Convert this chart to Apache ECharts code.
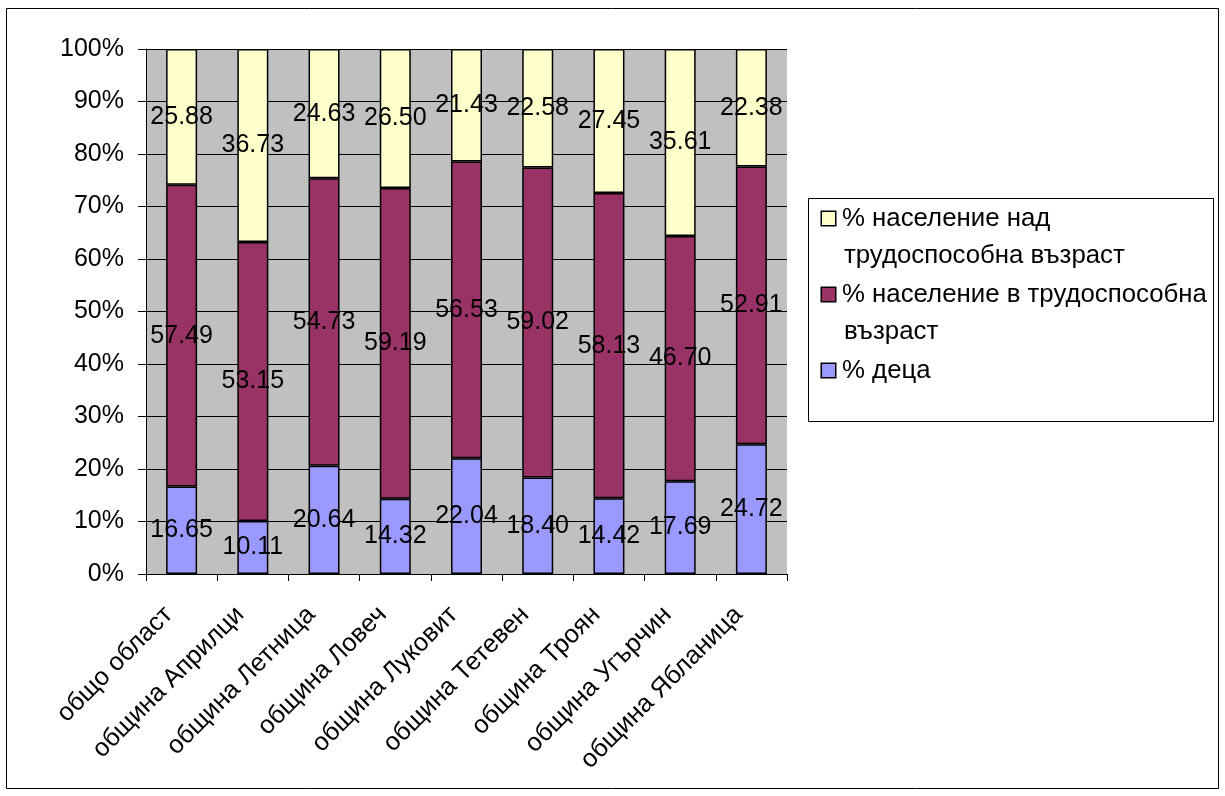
<!DOCTYPE html>
<html>
<head>
<meta charset="utf-8">
<script src="https://cdn.jsdelivr.net/npm/echarts@6/dist/echarts.min.js"></script>
<style>
html,body{margin:0;padding:0;background:#fff;}
#chart{width:1225px;height:796px;}
</style>
</head>
<body>
<div id="chart"></div>
<script>
var categories = ['общо област','община Априлци','община Летница','община Ловеч','община Луковит','община Тетевен','община Троян','община Угърчин','община Ябланица'];
var children = [16.65, 10.11, 20.64, 14.32, 22.04, 18.40, 14.42, 17.69, 24.72];
var working = [57.49, 53.15, 54.73, 59.19, 56.53, 59.02, 58.13, 46.70, 52.91];
var elderly = [25.88, 36.73, 24.63, 26.50, 21.43, 22.58, 27.45, 35.61, 22.38];
var seriesNames = ['% деца', '% население в трудоспособна възраст', '% население над трудоспособна възраст'];
var legendLines = {
  '% население над трудоспособна възраст': ['% население над', 'трудоспособна възраст'],
  '% население в трудоспособна възраст': ['% население в трудоспособна', 'възраст'],
  '% деца': ['% деца']
};
var colors = ['#9999FF', '#993366', '#FFFFCC'];
var FONT = 'Liberation Sans, Arial, sans-serif';

var chart = echarts.init(document.getElementById('chart'));

function makeSeries(name, data, color) {
  return {
    name: name,
    type: 'bar',
    stack: 'total',
    data: data,
    barWidth: 31,
    itemStyle: { color: color, borderColor: '#000', borderWidth: 1.5 },
    label: {
      show: true,
      position: 'inside',
      color: '#000',
      fontSize: 25,
      fontFamily: FONT,
      formatter: function (p) { return p.value.toFixed(2); }
    },
    emphasis: { disabled: true }
  };
}

var richStyles = {
  t: { fontSize: 25.8, fontFamily: FONT, color: '#000', lineHeight: 37 },
  g: { width: 7, lineHeight: 37 },
  sp: { width: 22, lineHeight: 37 }
};
colors.forEach(function (c, i) {
  richStyles['sq' + i] = { width: 13, height: 13, backgroundColor: c, borderColor: '#000', borderWidth: 1.5, lineHeight: 37 };
});

chart.setOption({
  animation: false,
  backgroundColor: '#fff',
  graphic: [
    { type: 'rect', shape: { x: 6.5, y: 8.5, width: 1212, height: 780 }, style: { fill: 'none', stroke: '#000', lineWidth: 1 }, z: -1 },
    { type: 'rect', shape: { x: 808.5, y: 198.5, width: 405, height: 223 }, style: { fill: 'none', stroke: '#000', lineWidth: 1 } }
  ],
  grid: { left: 146, right: 438, top: 49, bottom: 222, show: true, backgroundColor: '#C0C0C0', borderWidth: 0 },
  legend: {
    orient: 'vertical',
    left: 817,
    top: 200,
    padding: 0,
    itemGap: 2,
    itemWidth: 0,
    itemHeight: 0,
    icon: 'none',
    selectedMode: false,
    data: [seriesNames[2], seriesNames[1], seriesNames[0]],
    formatter: function (name) {
      var idx = seriesNames.indexOf(name);
      var lines = legendLines[name];
      var out = '{sq' + idx + '|}{g|}{t|' + lines[0] + '}';
      for (var i = 1; i < lines.length; i++) out += '\n{sp|}{t|' + lines[i] + '}';
      return out;
    },
    textStyle: { fontSize: 25.8, fontFamily: FONT, color: '#000', lineHeight: 37, rich: richStyles }
  },
  xAxis: {
    type: 'category',
    data: categories,
    axisLine: { lineStyle: { color: '#000', width: 1 } },
    axisTick: { show: true, length: 7, lineStyle: { color: '#000' } },
    axisLabel: { rotate: 45, margin: 24, padding: [0, 18, 0, 0], fontSize: 25.5, fontFamily: FONT, color: '#000', interval: 0 },
    splitLine: { show: false }
  },
  yAxis: {
    type: 'value',
    min: 0,
    max: 100,
    interval: 10,
    axisLine: { show: true, lineStyle: { color: '#000', width: 1 } },
    axisTick: { show: true, length: 8, lineStyle: { color: '#000' } },
    axisLabel: { formatter: '{value}%', margin: 22, fontSize: 25, fontFamily: FONT, color: '#000' },
    splitLine: { show: true, lineStyle: { color: '#000', width: 1 } }
  },
  series: [
    makeSeries(seriesNames[0], children, colors[0]),
    makeSeries(seriesNames[1], working, colors[1]),
    makeSeries(seriesNames[2], elderly, colors[2])
  ]
});
</script>
</body>
</html>
